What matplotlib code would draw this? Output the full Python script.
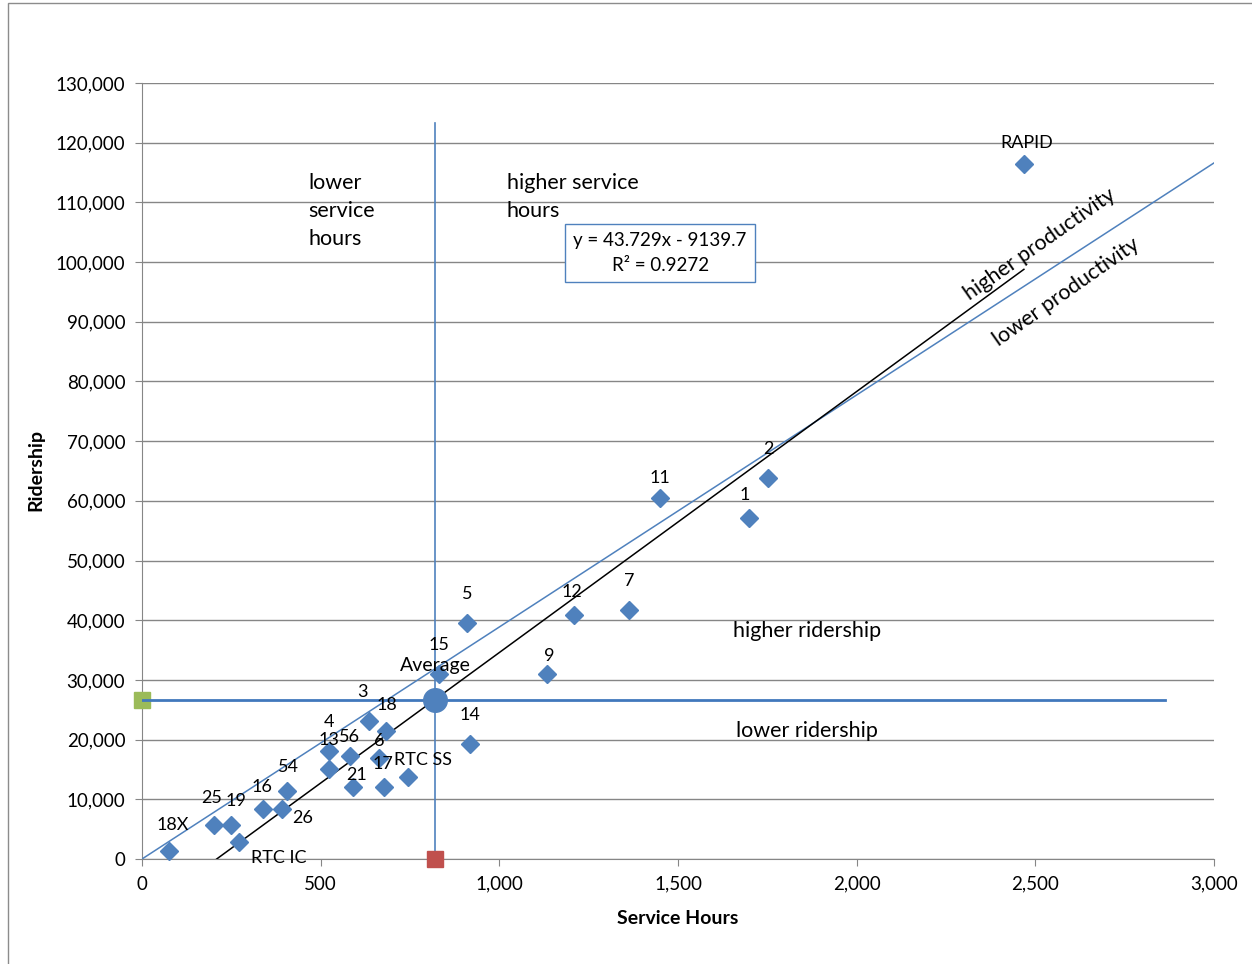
import matplotlib
matplotlib.use('Agg')
import numpy as np
import matplotlib.pyplot as plt
import matplotlib.patches as patches
from matplotlib.ticker import FuncFormatter, MultipleLocator

plt.rcParams['font.family'] = ['Lato', 'DejaVu Sans']

# route data
routes = ['RAPID', '2', '1', '11', '7', '12', '9', '5', '15', '14', '3', '18', '4', '13',
          '56', '6', '17', 'RTC SS', '21', '54', '16', '26', '25', '19', '18X', 'RTC IC']
hours = [2468, 1752, 1699, 1450, 1363, 1209, 1133, 910, 831, 918, 635, 683, 523, 523,
         582, 663, 677, 744, 590, 406, 339, 392, 201, 249, 76, 271]
riders = [116400, 63800, 57100, 60500, 41700, 40900, 31000, 39500, 31000, 19300, 23100, 21400, 18100, 15100,
          17300, 16900, 12100, 13700, 12100, 11400, 8400, 8400, 5700, 5700, 1300, 2800]

trend_slope = 43.729
trend_icpt = -9139.7
r2 = 0.9272
ref_slope = 38.87      # blue line through origin
vline_top = 123300
hline_end = 2863

avg_h = np.mean(hours)
avg_r = np.mean(riders)

blue = '#4F81BD'
grid_c = '#868686'

# label offsets in pixels (default is straight above)
lbl_off = {'RAPID': (3, 21), '1': (-4, 23), '11': (0, 20), '12': (-2, 23), '9': (2, 18),
           '3': (-6, 29), '18': (1, 26), '56': (0, 19), '6': (0, 17), '17': (-1, 23),
           'RTC SS': (15, 17), '21': (4, 12), '54': (1, 24), '16': (-1, 22), '26': (21, -9),
           '25': (-2, 27), '19': (5, 24), '18X': (4, 26), 'RTC IC': (40, -16)}

fig = plt.figure(figsize=(12.52, 9.64), dpi=100)
ax = fig.add_axes([142/1252, 1-859/964, 1072/1252, 776/964])

# outer frame
fig.patches.append(patches.Rectangle((8/1252, -0.1), 2, 0.1 + 961/964, transform=fig.transFigure,
                                     fill=False, ec='#8c8c8c', lw=1))

ax.set_xlim(0, 3000)
ax.set_ylim(0, 130000)
ax.xaxis.set_major_locator(MultipleLocator(500))
ax.yaxis.set_major_locator(MultipleLocator(10000))
ax.xaxis.set_major_formatter(FuncFormatter(lambda v, p: f'{v:,.0f}'))
ax.yaxis.set_major_formatter(FuncFormatter(lambda v, p: f'{v:,.0f}'))
ax.yaxis.grid(True, color=grid_c, lw=1)
ax.set_axisbelow(True)
for s in ['top', 'right']:
    ax.spines[s].set_visible(False)
for s in ['left', 'bottom']:
    ax.spines[s].set_color(grid_c)
ax.tick_params(axis='both', colors=grid_c, labelcolor='black', labelsize=13.5, length=5, pad=7)

# reference lines
xs = np.array([0, 3000])
ax.plot(xs, ref_slope * xs, color=blue, lw=1.1, zorder=3)
x0 = -trend_icpt / trend_slope
xt = np.array([x0, max(hours)])
ax.plot(xt, trend_slope * xt + trend_icpt, color='black', lw=1.1, zorder=3)

ax.plot([avg_h, avg_h], [0, vline_top], color=blue, lw=1.2, zorder=3)
ax.plot([0, hline_end], [avg_r, avg_r], color='#4178bc', lw=2, zorder=4)
ax.plot(avg_h, 0, 's', ms=11, color='#C0504D', clip_on=False, zorder=6)
ax.plot(0, avg_r, 's', ms=12, color='#9BBB59', clip_on=False, zorder=3)

ax.plot(hours, riders, 'D', color=blue, ms=9, zorder=5, clip_on=False)
ax.plot(avg_h, avg_r, 'o', color=blue, ms=17, zorder=5)

for r, h, v in zip(routes, hours, riders):
    dx, dy = lbl_off.get(r, (0, 29))
    ax.annotate(r, (h, v), xytext=(dx, dy), textcoords='offset pixels', ha='center', va='center',
                fontsize=13, zorder=7)
ax.annotate('Average', (avg_h, avg_r), xytext=(1, 34), textcoords='offset pixels',
            ha='center', va='center', fontsize=14, zorder=7)

ax.text(1450, 101500, f'y = {trend_slope}x - {-trend_icpt}\nR² = {r2}', ha='center', va='center',
        multialignment='center', fontsize=13.5, linespacing=1.55,
        bbox=dict(boxstyle='square,pad=0.45', fc='white', ec=blue, lw=1))

ax.text(465, 115000, 'lower\nservice\nhours', ha='left', va='top', fontsize=15.5, linespacing=1.5)
ax.text(1021, 115000, 'higher service\nhours', ha='left', va='top', fontsize=15.5, linespacing=1.5)
ax.text(1861, 38200, 'higher ridership', ha='center', va='center', fontsize=15.5)
ax.text(1861, 21500, 'lower ridership', ha='center', va='center', fontsize=15.5)
ax.text(2513, 102900, 'higher productivity', ha='center', va='center', fontsize=15.5,
        rotation=35, rotation_mode='anchor')
ax.text(2586, 95000, 'lower productivity', ha='center', va='center', fontsize=15.5,
        rotation=35, rotation_mode='anchor')

ax.set_xlabel('Service Hours', fontweight='bold', fontsize=14)
ax.set_ylabel('Ridership', fontweight='bold', fontsize=14)
ax.xaxis.set_label_coords(0.5, -0.0657)
ax.yaxis.set_label_coords(-0.0914, 0.501)

fig.savefig('out.png', dpi=100)
